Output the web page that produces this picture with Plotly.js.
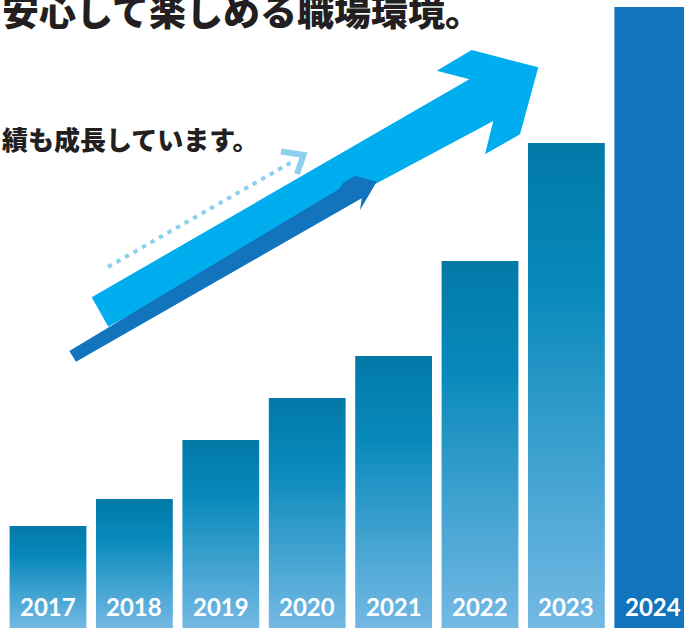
<!DOCTYPE html>
<html><head><meta charset="utf-8">
<script src="https://cdn.plot.ly/plotly-3.0.1.min.js"></script>
<style>html,body{margin:0;padding:0;background:#fff;overflow:hidden}#chart{width:684px;height:628px}</style>
</head><body><div id="chart"></div>
<script>
// ---- data ----
const years = ['2017','2018','2019','2020','2021','2022','2023','2024'];
const values = [102, 129, 188, 230, 272, 367, 485, 621];
const headline = '安心して楽しめる職場環境。';
const subline = '績も成長しています。';

// ---- styling ----
const W = 684, H = 628;
const barBase = '#0A85B6', barLast = '#1174BC';
const lightBlue = '#00AEEF', darkBlue = '#1174BC', dotBlue = '#8DD0EE';
const px = (x) => x / W, py = (y) => 1 - y / H;
function pathOf(pts, close) {
  return 'M' + pts.map(p => px(p[0]).toFixed(5) + ',' + py(p[1]).toFixed(5)).join(' L') + (close ? ' Z' : '');
}
const lightArrow = [[91.7,297.3],[469.3,79.3],[436.7,70.7],[471.7,50],[538.3,67.3],[520,134.3],[485,154.3],[493.3,121],[108.3,326.7]];
const darkArrow = [[69.3,351],[339,189],[343.3,182.7],[355,175.7],[376.7,181.7],[360,210],[361.7,198.3],[76,361.7]];
const dotLine = [[108,267],[291,162.5]];
const chevron = [[281,151.5],[303.5,155],[297,174]];

const trace = {
  type: 'bar', x: years, y: values, width: 0.889,
  marker: { color: years.map((_, i) => i === years.length - 1 ? barLast : barBase), line: { width: 0 } },
  hoverinfo: 'none'
};

const labelAnn = years.map((y, i) => ({
  x: i, xref: 'x', y: py(606), yref: 'paper', text: y, showarrow: false,
  xanchor: 'center', yanchor: 'middle',
  font: { family: 'Lato, "Open Sans", sans-serif', size: 24, weight: 700, color: '#ffffff' }
}));

const layout = {
  width: W, height: H, margin: { l: 0, r: 0, t: 0, b: 0 },
  paper_bgcolor: '#ffffff', plot_bgcolor: '#ffffff', showlegend: false,
  xaxis: { type: 'category', range: [-0.5556, 7.361], visible: false, fixedrange: true },
  yaxis: { range: [0, 628], visible: false, fixedrange: true },
  shapes: [
    { type: 'path', xref: 'paper', yref: 'paper', path: pathOf(dotLine, false), line: { color: dotBlue, width: 4, dash: '4.5px,5.3px' } },
    { type: 'path', xref: 'paper', yref: 'paper', path: pathOf(chevron, false), line: { color: dotBlue, width: 6 } },
    { type: 'path', xref: 'paper', yref: 'paper', path: pathOf(lightArrow, true), fillcolor: lightBlue, line: { width: 0 } },
    { type: 'path', xref: 'paper', yref: 'paper', path: pathOf(darkArrow, true), fillcolor: darkBlue, line: { width: 0 } }
  ],
  annotations: [
    { x: px(0), y: py(10), xref: 'paper', yref: 'paper', xanchor: 'left', yanchor: 'middle', showarrow: false,
      text: headline, font: { family: '"Noto Sans CJK JP", sans-serif', size: 37, weight: 900, color: '#231F20' } },
    { x: px(0), y: py(138), xref: 'paper', yref: 'paper', xanchor: 'left', yanchor: 'middle', showarrow: false,
      text: subline, font: { family: '"Noto Sans CJK JP", sans-serif', size: 26, weight: 900, color: '#231F20' } }
  ].concat(labelAnn)
};

function applyGradient() {
  const gd = document.getElementById('chart');
  const svg = gd.querySelector('.main-svg');
  let defs = svg.querySelector('defs');
  const NS = 'http://www.w3.org/2000/svg';
  if (!defs) { defs = document.createElementNS(NS, 'defs'); svg.insertBefore(defs, svg.firstChild); }
  const g = document.createElementNS(NS, 'linearGradient');
  g.setAttribute('id', 'barGrad'); g.setAttribute('x1', '0'); g.setAttribute('y1', '0'); g.setAttribute('x2', '0'); g.setAttribute('y2', '1');
  [['0', '#0279A7'], ['0.3', '#0889BB'], ['1', '#74B9E4']].forEach(s => {
    const st = document.createElementNS(NS, 'stop'); st.setAttribute('offset', s[0]); st.setAttribute('stop-color', s[1]); g.appendChild(st);
  });
  defs.appendChild(g);
  const paths = gd.querySelectorAll('.barlayer .trace .point path');
  paths.forEach((p, i) => { if (i < years.length - 1) p.style.fill = 'url(#barGrad)'; });
}

Plotly.newPlot('chart', [trace], layout, { displayModeBar: false, staticPlot: true }).then(applyGradient);
</script>
</body></html>
